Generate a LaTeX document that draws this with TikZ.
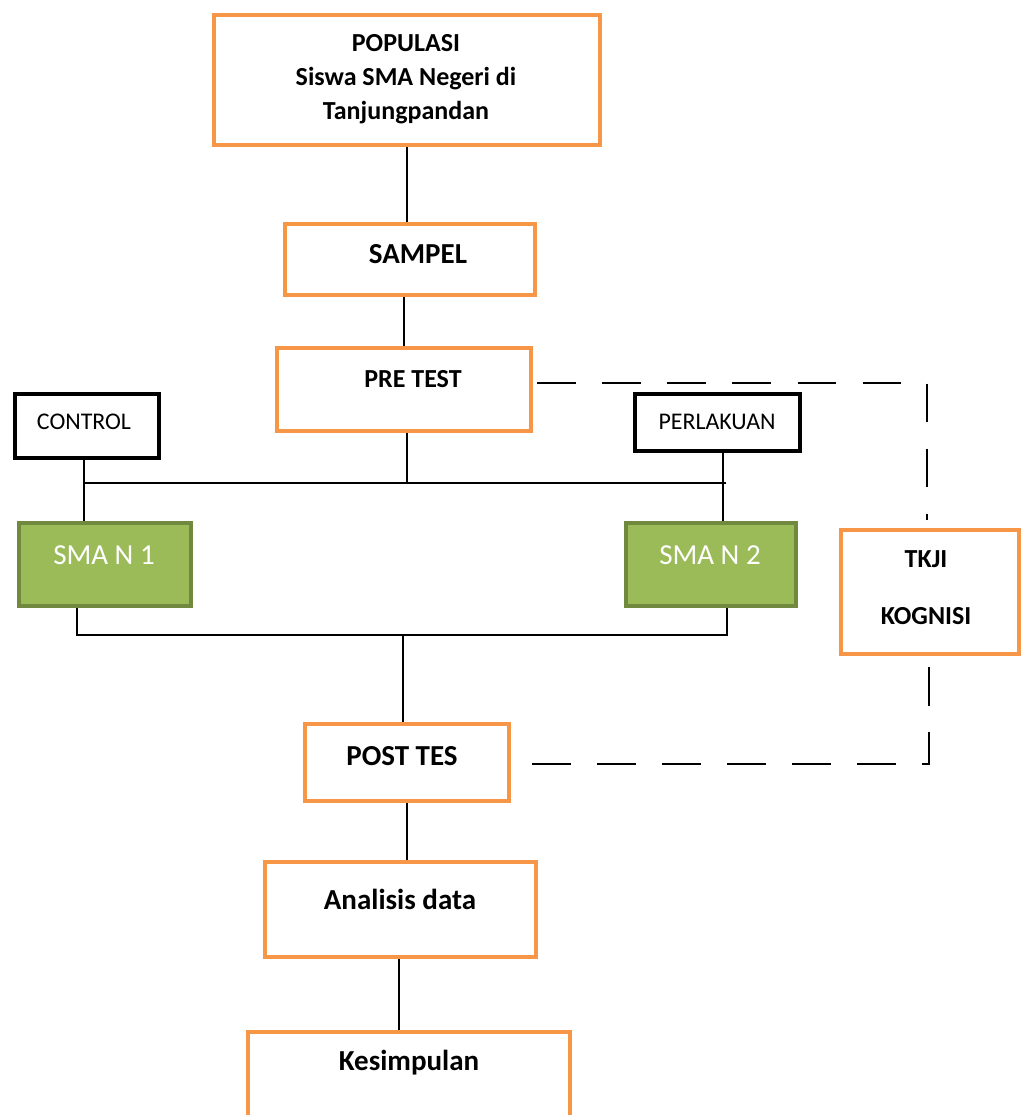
\documentclass[tikz,border=0pt]{standalone}
\usepackage{fontspec}
\setmainfont{Carlito}
\usepackage{xcolor}
\usepackage{tikz}
\usetikzlibrary{calc}

\definecolor{boxorange}{HTML}{F79646}
\definecolor{smafill}{HTML}{9BBB59}
\definecolor{smaline}{HTML}{71893F}

\begin{document}
\begin{tikzpicture}[x=0.02cm,y=-0.02cm,
    boxsize/.style 2 args={minimum width=#1*0.02cm,minimum height=#2*0.02cm,inner sep=0pt},
    obox/.style={draw=boxorange,line width=2.8pt,rectangle},
    kbox/.style={draw=black,line width=2.6pt,rectangle},
    smabox/.style={draw=smaline,fill=smafill,line width=2.8pt,rectangle},
    btxt/.style={font=\fontsize{14.8}{19.4}\selectfont\bfseries,align=center,inner sep=0pt},
    bigtxt/.style={font=\fontsize{16.5}{20}\selectfont\bfseries,inner sep=0pt},
    smalltxt/.style={font=\fontsize{13.6}{16}\selectfont,inner sep=0pt},
    smatxt/.style={font=\fontsize{16.5}{20}\selectfont,text=white,inner sep=0pt},
    conn/.style={line width=1pt},
    dashline/.style={line width=1.1pt,dash pattern=on 22pt off 15pt}]
    \useasboundingbox (0,0) rectangle (1027,1115);
    \clip (0,0) rectangle (1027,1115);
    % units are pixels of the 1027x1115 frame, y runs downwards
    % boxes
    \node[obox,boxsize={386}{130}] (populasi) at (407,80) {};
    \node[obox,boxsize={250}{71}] (sampel) at (410,259.5) {};
    \node[obox,boxsize={254}{83}] (pretest) at (404,389.5) {};
    \node[kbox,boxsize={144}{64}] (control) at (87,426) {};
    \node[kbox,boxsize={165}{57}] (perlakuan) at (717.5,422.5) {};
    \node[smabox,boxsize={172}{83}] (sman1) at (105,564.5) {};
    \node[smabox,boxsize={170}{83}] (sman2) at (711,564.5) {};
    \node[obox,boxsize={178}{124}] (tkji) at (930,592) {};
    \node[obox,boxsize={204}{77}] (posttes) at (407,762.5) {};
    \node[obox,boxsize={271}{95}] (analisis) at (400.5,909.5) {};
    \node[obox,boxsize={322}{140}] (kesimpulan) at (409,1102) {};
    % texts sit near the top of their boxes
    \node[btxt] (populasi-t) at (406,79) {POPULASI\\Siswa SMA Negeri di\\Tanjungpandan};
    \node[bigtxt] (sampel-t) at (418,254) {SAMPEL};
    \node[btxt] (pretest-t) at (413,379) {PRE TEST};
    \node[smalltxt] (control-t) at (84,422) {CONTROL};
    \node[smalltxt] (perlakuan-t) at (717,422) {PERLAKUAN};
    \node[smatxt] (sman1-t) at (104,555) {SMA N 1};
    \node[smatxt] (sman2-t) at (710,555) {SMA N 2};
    \node[btxt] (tkji-t) at (926,588) {TKJI\\[13pt]KOGNISI};
    \node[bigtxt] (posttes-t) at (402,756) {POST TES};
    \node[bigtxt] (analisis-t) at (400,899) {Analisis data};
    \node[bigtxt] (kesimpulan-t) at (409,1063) {Kesimpulan};
    % junction points of the branch lines
    \coordinate (hubL) at (84,483);
    \coordinate (hubR) at (723,483);
    \coordinate (hubC) at (407,483);
    \coordinate (botL) at (77,635);
    \coordinate (botR) at (727,635);
    \coordinate (botC) at (403,635);
    % solid connectors
    \draw[conn] (populasi.south) -- (populasi.south |- sampel.north);
    \draw[conn] (pretest.north) -- (pretest.north |- sampel.south);
    \draw[conn] (pretest.south -| hubC) -- (hubC);
    \draw[conn] (hubL) -- ([xshift=3*0.02cm]hubR);
    \draw[conn] (hubL |- control.south) -- (hubL) -- (hubL |- sman1.north);
    \draw[conn] (hubR |- perlakuan.south) -- (hubR) -- (hubR |- sman2.north);
    \draw[conn] (botL |- sman1.south) -- (botL) -- (botR) -- (botR |- sman2.south);
    \draw[conn] (botC) -- (botC |- posttes.north);
    \draw[conn] (posttes.south) -- (posttes.south |- analisis.north);
    \draw[conn] (analisis.south -| 399,0) -- (kesimpulan.north -| 399,0);
    % dashed loop round the test boxes
    \coordinate (dashTR) at (927,383);
    \coordinate (dashTK) at (927,520);
    \coordinate (dashBK) at (929,667);
    \coordinate (dashBR) at (929,764);
    \draw[dashline] ([xshift=4*0.02cm]pretest.east |- dashTR) -- (dashTR) -- (dashTK);
    \draw[dashline] (dashBK) -- (dashBR) -- ([xshift=4*0.02cm]posttes.east |- dashBR);
\end{tikzpicture}
\end{document}
